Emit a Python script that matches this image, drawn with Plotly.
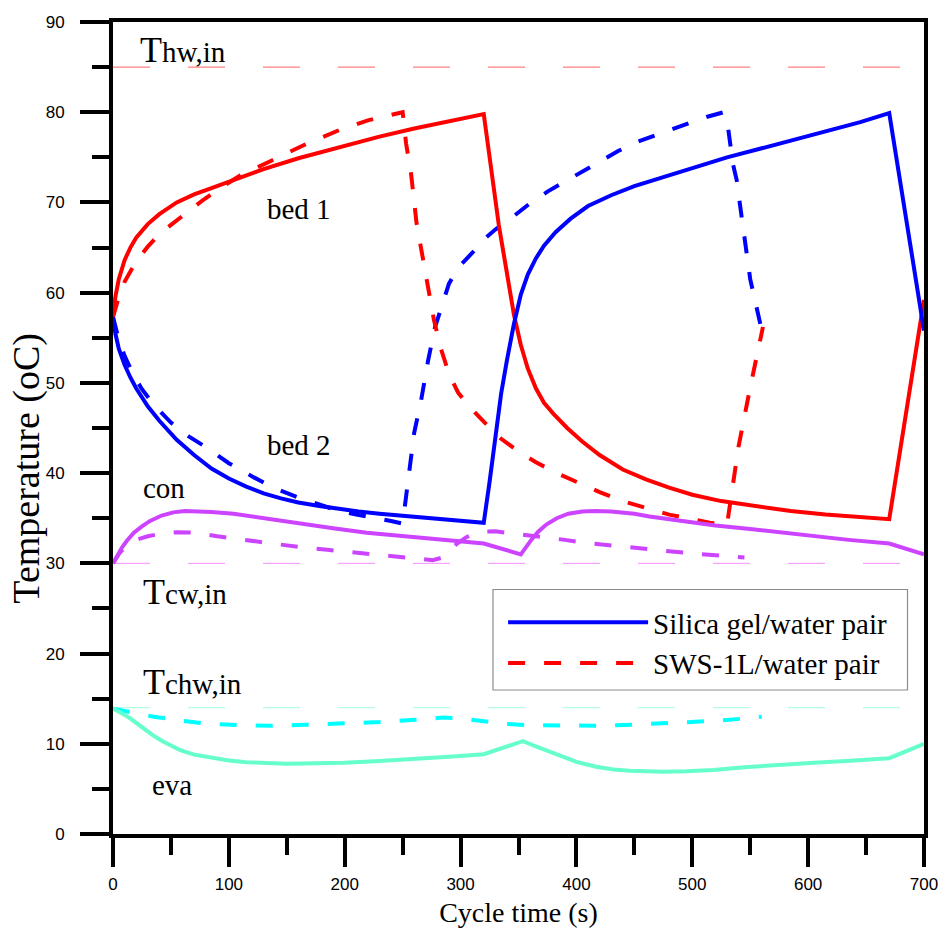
import plotly.graph_objects as go

# ---------------- data ----------------
# Silica gel / water pair
sg_bed1_t = [0, 2, 5, 10, 15, 20, 30, 40, 55, 70, 85, 100, 130, 160, 195, 230, 260, 290, 320,
             333, 340, 346, 352, 358, 365, 372, 380, 392, 405, 420, 440, 460, 480, 500, 525, 555,
             585, 615, 645, 670, 700]
sg_bed1_T = [57.3, 59.5, 61.5, 63.6, 65.0, 66.1, 67.6, 68.7, 70.0, 70.9, 71.6, 72.3, 73.7, 74.9,
             76.1, 77.3, 78.2, 79.0, 79.8,
             67.5, 61.8, 57.6, 54.2, 51.6, 49.4, 47.8, 46.6, 45.0, 43.5, 42.0, 40.4, 39.3, 38.4,
             37.6, 36.9, 36.3, 35.8, 35.4, 35.1, 34.9, 59.2]

sg_bed2_t = [0, 2, 5, 10, 15, 20, 30, 40, 55, 70, 85, 100, 115, 130, 145, 160, 178, 195, 212, 230,
             260, 290, 320,
             325, 330, 335, 340, 346, 352, 358, 365, 372, 382, 395, 410, 430, 450, 475, 500, 530,
             560, 590, 620, 645, 670, 700]
sg_bed2_T = [57.3, 55.5, 53.8, 52.0, 50.6, 49.4, 47.4, 45.8, 43.7, 42.0, 40.5, 39.4, 38.5, 37.75,
             37.2, 36.75, 36.35, 36.0, 35.75, 35.5, 35.15, 34.8, 34.5,
             39.0, 44.0, 48.8, 52.5, 56.5, 59.8, 62.0, 63.8, 65.2, 66.7, 68.2, 69.6, 70.8, 71.8,
             72.8, 73.9, 75.0, 76.0, 77.0, 78.0, 78.9, 79.9, 55.8]

sg_con_t = [0, 4, 8, 12, 18, 25, 32, 42, 52, 62, 72, 85, 104, 130, 161, 190, 219, 250, 276, 300,
            320, 352, 356, 361, 367, 374, 383, 393, 405, 416, 430, 450, 463, 490, 520, 550, 578,
            605, 635, 670, 700]
sg_con_T = [30.0, 31.0, 31.8, 32.5, 33.4, 34.1, 34.7, 35.3, 35.65, 35.8, 35.8, 35.7, 35.5, 35.0,
            34.4, 33.9, 33.4, 33.0, 32.7, 32.4, 32.2, 31.0, 31.8, 32.6, 33.5, 34.3, 35.0, 35.5,
            35.75, 35.8, 35.75, 35.5, 35.2, 34.7, 34.2, 33.8, 33.4, 33.0, 32.6, 32.2, 31.0]

sg_eva_t = [0, 5, 10, 15, 22, 29, 36, 44, 51, 58, 70, 87, 100, 115, 135, 150, 175, 200, 230, 259,
            290, 320, 354, 365, 377, 388, 400, 417, 432, 446, 460, 475, 495, 518, 545, 575, 605,
            633, 670, 700]
sg_eva_T = [13.9, 13.6, 13.2, 12.8, 12.1, 11.4, 10.8, 10.2, 9.7, 9.3, 8.8, 8.4, 8.15, 7.95, 7.85,
            7.8, 7.85, 7.9, 8.1, 8.3, 8.55, 8.85, 10.3, 9.7, 9.1, 8.5, 8.0, 7.45, 7.15, 7.0, 6.9,
            6.9, 6.95, 7.1, 7.4, 7.7, 7.9, 8.1, 8.4, 10.0]

# SWS-1L / water pair
sws_bed1_t = [0, 5, 10, 20, 30, 40, 52, 65, 78, 95, 110, 138, 167, 195, 220, 240, 250,
              253, 257, 262, 267, 272, 277, 283, 290, 298, 308, 320, 335, 350, 365, 383, 400,
              420, 440, 460, 480, 500, 515, 530, 540, 550, 561]
sws_bed1_T = [57.3, 59.5, 61.2, 63.5, 65.1, 66.5, 67.7, 69.0, 70.3, 71.8, 73.0, 74.7, 76.5, 78.0,
              79.1, 79.7, 80.0,
              76.5, 73.5, 67.7, 64.0, 60.5, 57.0, 53.8, 51.0, 48.9, 47.3, 45.7, 43.8, 42.4, 41.2,
              40.0, 39.0, 37.9, 36.9, 36.1, 35.4, 34.9, 34.5, 34.3, 43.0, 49.5, 56.2]

sws_bed2_t = [0, 5, 10, 18, 25, 35, 50, 65, 80, 100, 122, 140, 160, 180, 195, 210, 225, 240, 250,
              255, 260, 266, 272, 278, 284, 290, 298, 310, 320, 330, 345, 360, 375, 390, 405, 420,
              436, 452, 465, 482, 496, 513, 527, 531, 535, 539, 541, 545, 548, 550, 553, 557, 560]
sws_bed2_T = [57.3, 54.8, 53.0, 50.8, 49.3, 47.6, 45.6, 44.1, 42.9, 41.1, 39.5, 38.3, 37.3, 36.4,
              35.8, 35.4, 35.1, 34.7, 34.4,
              39.4, 44.5, 48.1, 52.5, 56.2, 58.6, 61.0, 62.8, 64.4, 65.9, 67.0, 68.4, 69.9, 71.2,
              72.3, 73.5, 74.6, 75.7, 76.7, 77.3, 78.1, 78.8, 79.5, 80.0,
              78.2, 74.3, 72.1, 69.9, 65.8, 63.6, 61.5, 59.8, 57.7, 55.8]

sws_con_t = [0, 6, 12, 20, 30, 42, 55, 70, 90, 118, 140, 161, 185, 205, 228, 248, 265, 276, 283,
             290, 297, 305, 312, 320, 330, 340, 357, 374, 390, 406, 422, 438, 455, 471, 487, 503,
             520, 535, 545]
sws_con_T = [30.0, 31.2, 32.0, 32.6, 33.0, 33.3, 33.45, 33.4, 33.0, 32.5, 32.1, 31.8, 31.5, 31.2,
             30.95, 30.7, 30.5, 30.35, 30.6, 31.3, 32.2, 32.9, 33.3, 33.5, 33.55, 33.4, 33.15,
             32.9, 32.6, 32.3, 32.1, 31.9, 31.65, 31.4, 31.2, 31.05, 30.9, 30.75, 30.65]

sws_eva_t = [0, 15, 35, 60, 80, 110, 135, 165, 200, 230, 260, 285, 300, 320, 340, 360, 390, 425,
             455, 490, 520, 545, 560]
sws_eva_T = [13.9, 13.5, 13.0, 12.55, 12.25, 12.05, 12.0, 12.1, 12.25, 12.4, 12.65, 12.9, 12.8,
             12.45, 12.2, 12.05, 12.0, 12.0, 12.15, 12.35, 12.55, 12.8, 13.0]

# inlet temperatures
inlet_t = [0, 700]
T_hw_in = [85, 85]
T_cw_in = [30, 30]
T_chw_in = [14, 14]

x_ticks = [0, 100, 200, 300, 400, 500, 600, 700]
y_ticks = [0, 10, 20, 30, 40, 50, 60, 70, 80, 90]

# ---------------- figure ----------------
RED, BLUE = "#FF0000", "#0000FF"
PURPLE, AQUA, CYAN = "#CC44FF", "#66FFCC", "#00FFFF"
LW = 4
DASH = "17px,19px"
REFDASH = "37px,38px"

fig = go.Figure()

def add(x, y, color, dash="solid", width=LW, name=None, show=False):
    fig.add_trace(go.Scatter(x=x, y=y, mode="lines", name=name, showlegend=show,
                             line=dict(color=color, width=width, dash=dash)))

# reference inlet lines
add(inlet_t, T_hw_in, "#FF6060", REFDASH, 1)
add(inlet_t, T_cw_in, "#F590FF", REFDASH, 1)
add(inlet_t, T_chw_in, "#A0FFE0", REFDASH, 1)

# SWS-1L (dashed)
add(sws_con_t, sws_con_T, PURPLE, DASH)
add(sws_eva_t, sws_eva_T, CYAN, DASH)
add(sws_bed2_t, sws_bed2_T, BLUE, DASH)
add(sws_bed1_t, sws_bed1_T, RED, DASH, name="SWS-1L/water pair", show=True)

# Silica gel (solid)
add(sg_con_t, sg_con_T, PURPLE)
add(sg_eva_t, sg_eva_T, AQUA)
add(sg_bed1_t, sg_bed1_T, RED)
add(sg_bed2_t, sg_bed2_T, BLUE, name="Silica gel/water pair", show=True)

SERIF = "Times New Roman, Liberation Serif, serif"
SANS = "Arial, Liberation Sans, sans-serif"

ann_font = dict(family=SERIF, size=29, color="black")
labels = [
    ("<span style='font-size:36px'>T</span>hw,in", 21.5, 86.9),
    ("<span style='font-size:36px'>T</span>cw,in", 24.5, 26.8),
    ("<span style='font-size:36px'>T</span>chw,in", 24.5, 16.8),
    ("bed 1", 131, 69.3),
    ("bed 2", 131, 43.1),
    ("con", 24, 38.3),
    ("eva", 32, 5.4),
]
for txt, xx, yy in labels:
    fig.add_annotation(x=xx, y=yy, text=txt, showarrow=False, xanchor="left",
                       yanchor="middle", font=ann_font)

# y-axis title (placed as in the reference, slightly below the axis centre)
fig.add_annotation(x=-0.106, y=0.45, xref="paper", yref="paper", text="Temperature (oC)",
                   textangle=-90, showarrow=False, xanchor="center", yanchor="middle",
                   font=dict(family=SERIF, size=38, color="black"))

# legend frame
fig.add_shape(type="rect", xref="paper", yref="paper",
              x0=(493 - 113) / 811, x1=(907.5 - 113) / 811,
              y0=(834 - 690) / 812, y1=(834 - 589.5) / 812,
              line=dict(color="#8C8C8C", width=1.2), fillcolor="white", layer="below")

axis_common = dict(showline=True, linecolor="black", linewidth=4, mirror=True,
                   ticks="outside", ticklen=29, tickwidth=4, tickcolor="black",
                   showgrid=False, zeroline=False, automargin=False,
                   tickfont=dict(family=SANS, size=17, color="black"))

fig.update_xaxes(range=[0, 700], tickvals=x_ticks,
                 minor=dict(ticks="outside", ticklen=17, tickwidth=4, tickcolor="black",
                            dtick=50, showgrid=False),
                 title=dict(text="Cycle time (s)", font=dict(family=SERIF, size=28, color="black"),
                            standoff=11),
                 ticklabelstandoff=3,
                 **axis_common)
fig.update_yaxes(range=[0, 90], tickvals=y_ticks,
                 minor=dict(ticks="outside", ticklen=17, tickwidth=4, tickcolor="black",
                            dtick=5, showgrid=False),
                 ticklabelstandoff=12,
                 **axis_common)

fig.update_layout(
    width=941, height=928,
    margin=dict(l=113, r=17, t=22, b=94, autoexpand=False),
    font=dict(family=SERIF, color="black"),
    plot_bgcolor="white", paper_bgcolor="white",
    legend=dict(x=0.481, y=0.292, xanchor="left", yanchor="top",
                bgcolor="rgba(0,0,0,0)", borderwidth=0,
                font=dict(family=SERIF, size=29, color="black"),
                itemwidth=140, traceorder="reversed", tracegroupgap=0),
)

fig.write_html("out.html")
